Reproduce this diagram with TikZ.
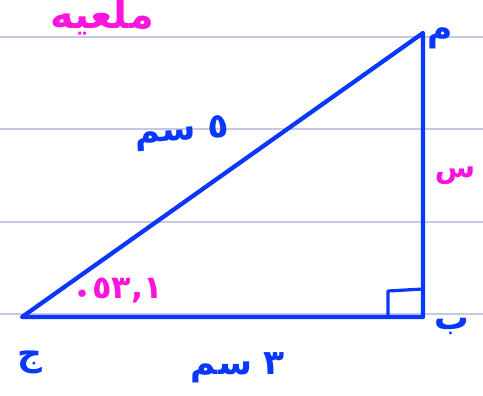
\documentclass[tikz,border=0pt]{standalone}
\usepackage{fontspec}
\newfontfamily\arabicfont[Script=Arabic]{DejaVu Sans}
\TeXXeTstate=1
\definecolor{penblue}{RGB}{10,55,252}
\definecolor{penpink}{RGB}{250,20,220}
\definecolor{ruling}{RGB}{200,200,228}
\begin{document}
\begin{tikzpicture}[x=0.02646cm,y=-0.02646cm,line join=round,line cap=round]
	\tikzset{lbl/.style={inner sep=0pt,text=penblue,font=\arabicfont\bfseries\fontsize{26}{30}\selectfont},
		note/.style={lbl,text=penpink}}
	\def\w{483} \def\h{396} \def\lw{3.2pt}
	\useasboundingbox (0,0) rectangle (\w,\h);
	\clip (0,0) rectangle (\w,\h);
	\fill[white] (0,0) rectangle (\w,\h);
	% ruled paper
	\foreach \y in {37,129,222,314} \draw[ruling,line width=.8pt] (0,\y)--(\w,\y);
	% triangle
	\coordinate (A) at (423,33); \coordinate (B) at (423,317); \coordinate (C) at (22,317);
	\draw[penblue,line width=\lw] (C)--(B)--(A)--cycle;
	\draw[penblue,line width=2.4pt] (388,317)--(388,291)--(423,289);
	% vertices
	\node[lbl] (mA) at (440,38) {\beginR م\endR};
	\node[lbl] (mB) at (452,326) {\beginR ب\endR};
	\node[lbl] (mC) at (30,362) {\beginR ج\endR};
	% sides
	\node[lbl,rotate=4] (hyp) at (182,133) {\beginR ٥ سم\endR};
	\node[lbl] (base) at (238,368) {\beginR ٣ سم\endR};
	% pink notes
	\node[note,font=\arabicfont\bfseries\fontsize{24}{28}\selectfont] (ang) at (120,291) {{\rmfamily\bfseries\Large$\bullet$}\,٥٣,١};
	\node[note,font=\arabicfont\bfseries\fontsize{30}{34}\selectfont] (ttl) at (102,17) {\beginR ملعيه\endR};
	\node[note,font=\arabicfont\bfseries\fontsize{22}{26}\selectfont] (opp) at (455,176) {\beginR س\endR};
\end{tikzpicture}
\end{document}
